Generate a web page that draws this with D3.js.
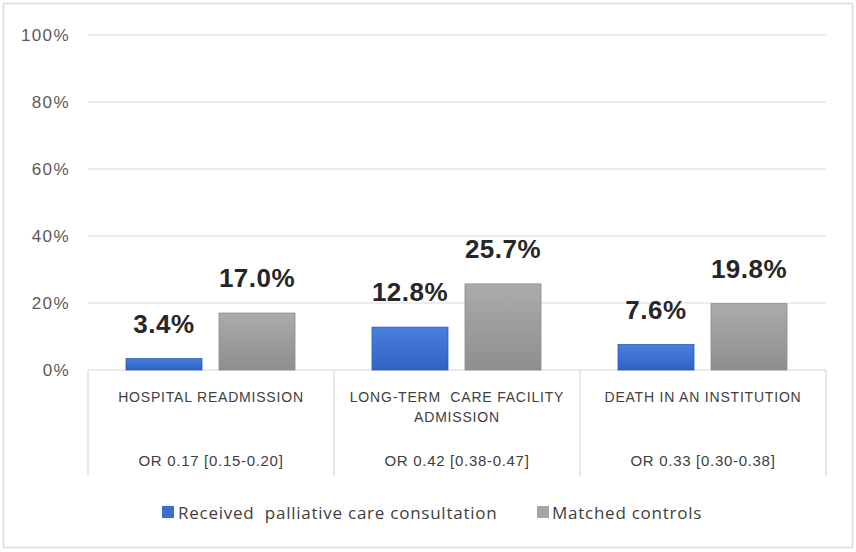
<!DOCTYPE html>
<html>
<head>
<meta charset="utf-8">
<script src="https://cdn.jsdelivr.net/npm/d3@7/dist/d3.min.js"></script>
<style>
  html, body { margin: 0; padding: 0; background: #fff; }
  svg { display: block; }
</style>
</head>
<body>
<svg id="chart" width="856" height="552"></svg>
<script>
// categories, each with a two-line label and an odds-ratio line
const categories = ["hosp", "ltc", "death"];
const categoryLines = [
  ["HOSPITAL READMISSION"],
  ["LONG-TERM  CARE FACILITY", "ADMISSION"],
  ["DEATH IN AN INSTITUTION"]
];
const oddsRatios = ["OR 0.17 [0.15-0.20]", "OR 0.42 [0.38-0.47]", "OR 0.33 [0.30-0.38]"];

const seriesNames = ["Received  palliative care consultation", "Matched controls"];
const palliative = [3.4, 12.8, 7.6];
const controls = [17.0, 25.7, 19.8];
const yTicks = [0, 20, 40, 60, 80, 100];

const svg = d3.select("#chart");
const W = 856, H = 552;
const M = { left: 88, right: 30, top: 35, plotBottom: 370 };
const sans = "Liberation Sans, Arial, sans-serif";
const legendFont = "Open Sans, Liberation Sans, sans-serif";

// outer frame
svg.append("rect")
  .attr("x", 3.5).attr("y", 3.5).attr("width", W - 7).attr("height", H - 8)
  .attr("fill", "#fff").attr("stroke", "#dcdcdc").attr("stroke-width", 1.5);

const defs = svg.append("defs");
const gradBlue = defs.append("linearGradient").attr("id", "gBlue").attr("x1", 0).attr("y1", 0).attr("x2", 0).attr("y2", 1);
gradBlue.append("stop").attr("offset", "0%").attr("stop-color", "#4a7fdc");
gradBlue.append("stop").attr("offset", "100%").attr("stop-color", "#2f62c6");
const gradGray = defs.append("linearGradient").attr("id", "gGray").attr("x1", 0).attr("y1", 0).attr("x2", 0).attr("y2", 1);
gradGray.append("stop").attr("offset", "0%").attr("stop-color", "#ababab");
gradGray.append("stop").attr("offset", "100%").attr("stop-color", "#8e8e8e");
const fills = ["url(#gBlue)", "url(#gGray)"];
const strokes = ["#2c5bb8", "#8a8a8a"];
const swatch = ["#3a6fd4", "#a5a5a5"];

const x0 = d3.scaleBand().domain(categories).range([M.left, W - M.right]).paddingInner(0).paddingOuter(0);
// two bars inside each category box
const x1 = d3.scaleBand().domain([0, 1]).range([38, 207]).paddingInner(17 / 93).paddingOuter(0);
const y = d3.scaleLinear().domain([0, 100]).range([M.plotBottom, M.top]);

// gridlines
svg.append("g").selectAll("line").data(yTicks).join("line")
  .attr("x1", M.left).attr("x2", W - M.right)
  .attr("y1", d => y(d)).attr("y2", d => y(d))
  .attr("stroke", "#dadada").attr("stroke-width", 1.2);

// y axis labels
const yAxis = svg.append("g").attr("transform", `translate(${M.left},0)`)
  .call(d3.axisLeft(y).tickValues(yTicks).tickFormat(d => d + "%").tickSize(0).tickPadding(18));
yAxis.select(".domain").remove();
yAxis.selectAll("text")
  .attr("font-family", sans).attr("font-size", 17).attr("letter-spacing", 1.4)
  .attr("fill", "#595959");

// category box dividers
const edges = categories.map(c => x0(c)).concat([W - M.right]);
svg.append("g").selectAll("line").data(edges).join("line")
  .attr("x1", d => d).attr("x2", d => d)
  .attr("y1", M.plotBottom).attr("y2", 476)
  .attr("stroke", "#dadada").attr("stroke-width", 1.2);

// bars
const series = [palliative, controls];
series.forEach((vals, si) => {
  const g = svg.append("g");
  g.selectAll("rect").data(vals).join("rect")
    .attr("x", (d, i) => x0(categories[i]) + x1(si))
    .attr("width", x1.bandwidth())
    .attr("y", d => y(d))
    .attr("height", d => y(0) - y(d))
    .attr("fill", fills[si]).attr("stroke", strokes[si]).attr("stroke-width", 0.8);
  g.selectAll("text").data(vals).join("text")
    .attr("x", (d, i) => x0(categories[i]) + x1(si) + x1.bandwidth() / 2)
    .attr("y", d => y(d) - 26)
    .attr("text-anchor", "middle")
    .attr("font-family", sans).attr("letter-spacing", 0.5)
    .attr("font-weight", "bold").attr("font-size", 26).attr("fill", "#262626")
    .text(d => d.toFixed(1) + "%");
});

// category labels
categories.forEach((c, i) => {
  const cx = x0(c) + x0.bandwidth() / 2;
  categoryLines[i].forEach((line, li) => {
    svg.append("text")
      .attr("x", cx).attr("y", 402 + li * 20)
      .attr("text-anchor", "middle")
      .attr("font-family", sans).attr("font-size", 14).attr("letter-spacing", 0.8)
      .attr("fill", "#404040")
      .attr("xml:space", "preserve")
      .text(line);
  });
  svg.append("text")
    .attr("x", cx).attr("y", 466)
    .attr("text-anchor", "middle")
    .attr("font-family", sans).attr("font-size", 15).attr("letter-spacing", 0.7)
    .attr("fill", "#404040")
    .text(oddsRatios[i]);
});

// legend
const legendX = [162, 537];
const legendTextX = [178, 552];
seriesNames.forEach((name, i) => {
  svg.append("rect")
    .attr("x", legendX[i]).attr("y", 506).attr("width", 12).attr("height", 12)
    .attr("fill", swatch[i]);
  svg.append("text")
    .attr("x", legendTextX[i]).attr("y", 519)
    .attr("font-family", legendFont).attr("font-size", 17).attr("letter-spacing", 0.75)
    .attr("fill", "#404040")
    .attr("xml:space", "preserve")
    .text(name);
});
</script>
</body>
</html>
